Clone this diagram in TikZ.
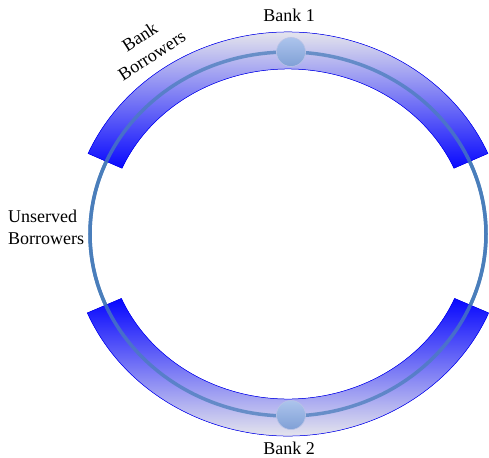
\documentclass[tikz,border=0pt]{standalone}
\usepackage{fontspec}
\setmainfont{Liberation Serif}
\definecolor{ringline}{RGB}{74,126,187}
\definecolor{bandpale}{RGB}{230,230,236}
\definecolor{bandmid}{RGB}{172,172,236}
\definecolor{balltop}{RGB}{172,196,236}
\definecolor{ballbot}{RGB}{128,160,214}
\definecolor{ballrim}{RGB}{185,195,230}
\begin{document}
\begin{tikzpicture}[
  x=1pt, y=1pt,
  font=\fontsize{18}{22}\selectfont,
  ring/.style={draw=ringline, line width=3.5},
  band/.style={draw=blue, line width=0.5},
  bank/.style={circle, minimum size=29, inner sep=0pt, draw=ballrim,
    line width=0.6, top color=balltop, bottom color=ballbot},
  lbl/.style={inner sep=0pt, align=center}]
\useasboundingbox (-288,-223) rectangle (201,234);
% the ring of borrowers
\draw[ring] (0,0) ellipse [x radius=198, y radius=182];
% markets of the two banks
\begin{scope}
  \clip (23.5:218 and 202) arc[start angle=23.5, end angle=156.5, x radius=218, y radius=202]
    -- (156.5:181 and 165) arc[start angle=156.5, end angle=23.5, x radius=181, y radius=165]
    -- cycle;
  \fill[top color=bandpale, middle color=bandmid, bottom color=blue] (-225,60) rectangle (225,203);
\end{scope}
\begin{scope}
  \clip (203:218 and 202) arc[start angle=203, end angle=337, x radius=218, y radius=202]
    -- (337:181 and 165) arc[start angle=337, end angle=203, x radius=181, y radius=165]
    -- cycle;
  \fill[top color=blue, middle color=bandmid, bottom color=bandpale] (-225,-203) rectangle (225,-60);
\end{scope}
\draw[band] (23.5:218 and 202) arc[start angle=23.5, end angle=156.5, x radius=218, y radius=202]
  -- (156.5:181 and 165) arc[start angle=156.5, end angle=23.5, x radius=181, y radius=165]
  -- cycle;
\draw[band] (203:218 and 202) arc[start angle=203, end angle=337, x radius=218, y radius=202]
  -- (337:181 and 165) arc[start angle=337, end angle=203, x radius=181, y radius=165]
  -- cycle;
\draw[ring, opacity=0.75] (0,0) ellipse [x radius=198, y radius=182];
% banks
\node[bank] (ball1) at (3,182) {};
\node[bank] (ball2) at (3,-181) {};
\node[lbl] (bank1) at (1,218.5) {Bank 1};
\node[lbl] (bank2) at (1,-214) {Bank 2};
\node[lbl, anchor=west, align=left] (unserved) at (-280,7) {Unserved\\Borrowers};
\node[lbl, rotate=33] (served) at (-142.3,187.9) {Bank\\Borrowers};
\end{tikzpicture}
\end{document}
